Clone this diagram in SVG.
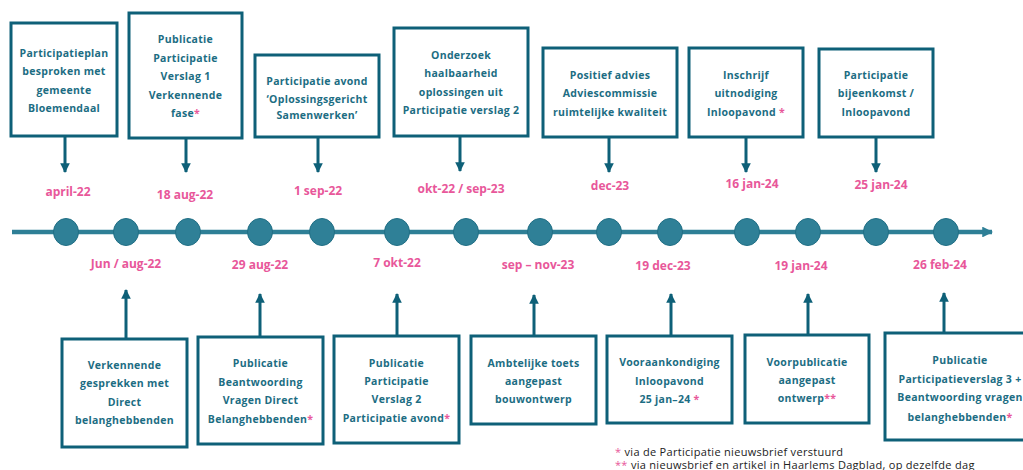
<svg xmlns="http://www.w3.org/2000/svg" width="1023" height="470" viewBox="0 0 1023 470">
<defs>
<style>
.box{fill:#fff;stroke:#0e6078;stroke-width:3}
.bt{font-family:"Open Sans","Noto Sans",sans-serif;font-weight:700;font-size:10.5px;letter-spacing:0.3px;fill:#1c6d83;text-anchor:middle}
.dt{font-family:"Open Sans","Noto Sans",sans-serif;font-weight:700;font-size:12px;fill:#e8579a;text-anchor:middle}
.ast{fill:#e8579a}
.con{stroke:#0e6078;stroke-width:3;fill:none}
.tl{stroke:#2e7f96;stroke-width:4.5;fill:none}
.dot{fill:#2f8097;stroke:#216f85;stroke-width:1}
.fn{font-family:"Open Sans","Noto Sans",sans-serif;font-size:11px;letter-spacing:0.3px;fill:#222}
</style>
<marker id="ah" viewBox="0 0 10 10" refX="9" refY="5" markerWidth="3.2" markerHeight="3.2" orient="auto" markerUnits="strokeWidth">
<path d="M0,0 L10,5 L0,10 z" fill="#0e6078"/>
</marker>
<marker id="ah2" viewBox="0 0 10 10" refX="9" refY="5" markerWidth="2.4" markerHeight="2.4" orient="auto" markerUnits="strokeWidth">
<path d="M0,0 L10,5 L0,10 z" fill="#2e7f96"/>
</marker>
</defs>

<g id="connectors">
<line class="tl" x1="12" y1="232" x2="992" y2="232" marker-end="url(#ah2)"/>
<line class="con" x1="65" y1="137" x2="65" y2="172" marker-end="url(#ah)"/>
<line class="con" x1="186" y1="138" x2="186" y2="172" marker-end="url(#ah)"/>
<line class="con" x1="318" y1="137" x2="318" y2="172" marker-end="url(#ah)"/>
<line class="con" x1="460" y1="136" x2="460" y2="171" marker-end="url(#ah)"/>
<line class="con" x1="609" y1="137" x2="609" y2="172" marker-end="url(#ah)"/>
<line class="con" x1="746" y1="137" x2="746" y2="172" marker-end="url(#ah)"/>
<line class="con" x1="876" y1="137" x2="876" y2="172" marker-end="url(#ah)"/>
<line class="con" x1="126" y1="339" x2="126" y2="290" marker-end="url(#ah)"/>
<line class="con" x1="260" y1="337" x2="260" y2="294" marker-end="url(#ah)"/>
<line class="con" x1="397" y1="336" x2="397" y2="294" marker-end="url(#ah)"/>
<line class="con" x1="534" y1="336" x2="534" y2="295" marker-end="url(#ah)"/>
<line class="con" x1="671" y1="336" x2="671" y2="294" marker-end="url(#ah)"/>
<line class="con" x1="808" y1="335" x2="808" y2="294" marker-end="url(#ah)"/>
<line class="con" x1="944" y1="333" x2="944" y2="293" marker-end="url(#ah)"/>
</g>

<g id="timeline-dots">
<ellipse class="dot" cx="66" cy="232" rx="12.5" ry="13.5"/>
<ellipse class="dot" cx="126" cy="232" rx="12.5" ry="13.5"/>
<ellipse class="dot" cx="188" cy="232" rx="12.5" ry="13.5"/>
<ellipse class="dot" cx="260" cy="232" rx="12.5" ry="13.5"/>
<ellipse class="dot" cx="322" cy="232" rx="12.5" ry="13.5"/>
<ellipse class="dot" cx="397" cy="232" rx="12.5" ry="13.5"/>
<ellipse class="dot" cx="466" cy="232" rx="12.5" ry="13.5"/>
<ellipse class="dot" cx="540" cy="232" rx="12.5" ry="13.5"/>
<ellipse class="dot" cx="609" cy="232" rx="12.5" ry="13.5"/>
<ellipse class="dot" cx="670" cy="232" rx="12.5" ry="13.5"/>
<ellipse class="dot" cx="747" cy="232" rx="12.5" ry="13.5"/>
<ellipse class="dot" cx="808" cy="232" rx="12.5" ry="13.5"/>
<ellipse class="dot" cx="876" cy="232" rx="12.5" ry="13.5"/>
<ellipse class="dot" cx="946" cy="232" rx="12.5" ry="13.5"/>
</g>

<g id="dates">
<text class="dt" x="68" y="196">april-22</text>
<text class="dt" x="185" y="199">18 aug-22</text>
<text class="dt" x="318" y="195">1 sep-22</text>
<text class="dt" x="461" y="193">okt-22 / sep-23</text>
<text class="dt" x="610" y="190">dec-23</text>
<text class="dt" x="752" y="188">16 jan-24</text>
<text class="dt" x="881" y="189">25 jan-24</text>
<text class="dt" x="126" y="268">Jun / aug-22</text>
<text class="dt" x="260" y="269">29 aug-22</text>
<text class="dt" x="397" y="267">7 okt-22</text>
<text class="dt" x="538" y="269">sep – nov-23</text>
<text class="dt" x="663" y="270">19 dec-23</text>
<text class="dt" x="801" y="270">19 jan-24</text>
<text class="dt" x="940" y="269">26 feb-24</text>
</g>

<g id="n1">
<rect class="box" x="11" y="23" width="106" height="113"/>
<text class="bt"><tspan x="64" y="57">Participatieplan</tspan><tspan x="64" y="75">besproken met</tspan><tspan x="64" y="94">gemeente</tspan><tspan x="64" y="112">Bloemendaal</tspan></text>
</g>
<g id="n2">
<rect class="box" x="129" y="13" width="113" height="125"/>
<text class="bt"><tspan x="185.5" y="43">Publicatie</tspan><tspan x="185.5" y="62">Participatie</tspan><tspan x="185.5" y="80">Verslag 1</tspan><tspan x="185.5" y="99">Verkennende</tspan><tspan x="185.5" y="117">fase<tspan class="ast">*</tspan></tspan></text>
</g>
<g id="n3">
<rect class="box" x="255" y="55" width="124" height="82"/>
<text class="bt"><tspan x="317" y="85">Participatie avond</tspan><tspan x="317" y="103">‘Oplossingsgericht</tspan><tspan x="317" y="119">Samenwerken’</tspan></text>
</g>
<g id="n4">
<rect class="box" x="394" y="28" width="134" height="108"/>
<text class="bt"><tspan x="461" y="59">Onderzoek</tspan><tspan x="461" y="77">haalbaarheid</tspan><tspan x="461" y="96">oplossingen uit</tspan><tspan x="461" y="114">Participatie verslag 2</tspan></text>
</g>
<g id="n5">
<rect class="box" x="543" y="48" width="134" height="89"/>
<text class="bt"><tspan x="610" y="79">Positief advies</tspan><tspan x="610" y="97">Adviescommissie</tspan><tspan x="610" y="116">ruimtelijke kwaliteit</tspan></text>
</g>
<g id="n6">
<rect class="box" x="689" y="48" width="114" height="89"/>
<text class="bt"><tspan x="746" y="79">Inschrijf</tspan><tspan x="746" y="97">uitnodiging</tspan><tspan x="746" y="116">Inloopavond <tspan class="ast">*</tspan></tspan></text>
</g>
<g id="n7">
<rect class="box" x="819" y="49" width="114" height="88"/>
<text class="bt"><tspan x="876" y="79">Participatie</tspan><tspan x="876" y="97">bijeenkomst /</tspan><tspan x="876" y="116">Inloopavond</tspan></text>
</g>

<g id="n8">
<rect class="box" x="62" y="339" width="125" height="108"/>
<text class="bt"><tspan x="124.5" y="369">Verkennende</tspan><tspan x="124.5" y="387">gesprekken met</tspan><tspan x="124.5" y="406">Direct</tspan><tspan x="124.5" y="424">belanghebbenden</tspan></text>
</g>
<g id="n9">
<rect class="box" x="198" y="337" width="125" height="107"/>
<text class="bt"><tspan x="260.5" y="367">Publicatie</tspan><tspan x="260.5" y="386">Beantwoording</tspan><tspan x="260.5" y="404">Vragen Direct</tspan><tspan x="260.5" y="423">Belanghebbenden<tspan class="ast">*</tspan></tspan></text>
</g>
<g id="n10">
<rect class="box" x="334" y="336" width="125" height="107"/>
<text class="bt"><tspan x="396.5" y="367">Publicatie</tspan><tspan x="396.5" y="385">Participatie</tspan><tspan x="396.5" y="403">Verslag 2</tspan><tspan x="396.5" y="422">Participatie avond<tspan class="ast">*</tspan></tspan></text>
</g>
<g id="n11">
<rect class="box" x="471" y="336" width="125" height="88"/>
<text class="bt"><tspan x="533.5" y="367">Ambtelijke toets</tspan><tspan x="533.5" y="385">aangepast</tspan><tspan x="533.5" y="403">bouwontwerp</tspan></text>
</g>
<g id="n12">
<rect class="box" x="607" y="336" width="125" height="87"/>
<text class="bt"><tspan x="669.5" y="366">Vooraankondiging</tspan><tspan x="669.5" y="385">Inloopavond</tspan><tspan x="669.5" y="403">25 jan–24 <tspan class="ast">*</tspan></tspan></text>
</g>
<g id="n13">
<rect class="box" x="745" y="335" width="124" height="88"/>
<text class="bt"><tspan x="807" y="366">Voorpublicatie</tspan><tspan x="807" y="384">aangepast</tspan><tspan x="807" y="402">ontwerp<tspan class="ast">**</tspan></tspan></text>
</g>
<g id="n14">
<rect class="box" x="885" y="333" width="150" height="107"/>
<text class="bt"><tspan x="960" y="364">Publicatie</tspan><tspan x="960" y="383">Participatieverslag 3 +</tspan><tspan x="960" y="401">Beantwoording vragen</tspan><tspan x="960" y="421">belanghebbenden<tspan class="ast">*</tspan></tspan></text>
</g>

<g id="footnotes">
<text class="fn" x="615" y="456"><tspan class="ast">*</tspan> via de Participatie nieuwsbrief verstuurd</text>
<text class="fn" x="615" y="469"><tspan class="ast">**</tspan> via nieuwsbrief en artikel in Haarlems Dagblad, op dezelfde dag</text>
</g>
</svg>
